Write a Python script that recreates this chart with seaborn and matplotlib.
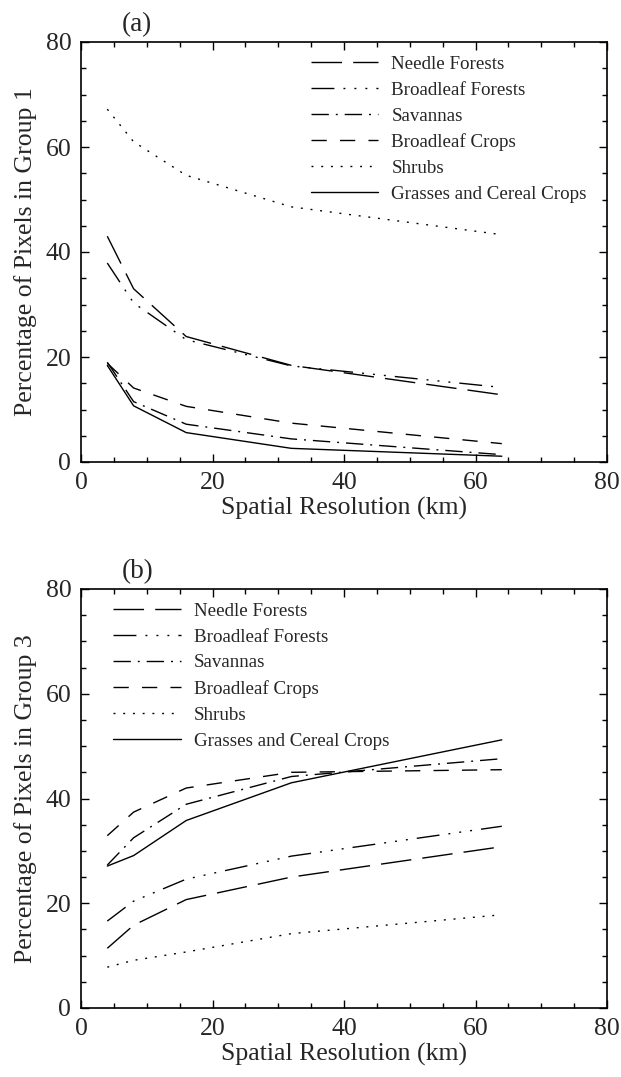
import matplotlib
matplotlib.use("Agg")
import matplotlib.pyplot as plt
from matplotlib.ticker import MultipleLocator
import numpy as np
import pandas as pd
import seaborn as sns

# Spatial resolutions (km) and land-cover classes
resolution = [4, 8, 16, 32, 64]
covers = ["Needle Forests", "Broadleaf Forests", "Savannas",
          "Broadleaf Crops", "Shrubs", "Grasses and Cereal Crops"]

# (a) percentage of pixels in group 1
g1_needle = [43.0, 33.0, 23.9, 18.4, 12.8]
g1_broadleaf_forest = [37.9, 30.3, 23.3, 18.3, 14.2]
g1_savanna = [19.0, 11.5, 7.2, 4.4, 1.4]
g1_broadleaf_crop = [18.8, 14.1, 10.6, 7.4, 3.5]
g1_shrub = [67.2, 61.0, 54.6, 48.6, 43.3]
g1_grass = [18.4, 10.7, 5.6, 2.6, 1.1]

# (b) percentage of pixels in group 3
g3_needle = [11.4, 15.8, 20.7, 25.0, 30.8]
g3_broadleaf_forest = [16.6, 20.4, 24.6, 29.0, 34.7]
g3_savanna = [27.3, 32.5, 38.9, 44.2, 47.6]
g3_broadleaf_crop = [32.9, 37.4, 42.0, 45.0, 45.5]
g3_shrub = [7.8, 9.1, 10.7, 14.2, 17.8]
g3_grass = [27.1, 29.1, 35.8, 43.0, 51.2]

panels = [
    ("(a)", "Percentage of Pixels in Group 1",
     [g1_needle, g1_broadleaf_forest, g1_savanna, g1_broadleaf_crop, g1_shrub, g1_grass],
     (0.437, 0.968)),
    ("(b)", "Percentage of Pixels in Group 3",
     [g3_needle, g3_broadleaf_forest, g3_savanna, g3_broadleaf_crop, g3_shrub, g3_grass],
     (0.061, 0.968)),
]

# dash patterns in points
dash_styles = {
    "Needle Forests": (22, 8),
    "Broadleaf Forests": (16.5, 6.5, 1.4, 6.5, 1.4, 6.5, 1.4, 6.5),
    "Savannas": (12.5, 5, 1.4, 5),
    "Broadleaf Crops": (11, 9.5),
    "Shrubs": (1.4, 5.6),
    "Grasses and Cereal Crops": "",
}

sns.set_theme(style="ticks")
plt.rcParams["font.family"] = ["Liberation Serif", "DejaVu Serif"]
plt.rcParams["lines.scale_dashes"] = False

fig = plt.figure(figsize=(6.21, 10.77), dpi=100)
rects = [(81 / 621, 1 - 462 / 1077, 526 / 621, 420 / 1077),
         (81 / 621, 1 - 1008 / 1077, 526 / 621, 419 / 1077)]

for rect, (tag, ylabel, series, legpos) in zip(rects, panels):
    ax = fig.add_axes(rect)
    frames = [pd.DataFrame({"res": resolution, "pct": vals, "cover": name})
              for name, vals in zip(covers, series)]
    df = pd.concat(frames, ignore_index=True)
    sns.lineplot(data=df, x="res", y="pct", style="cover", style_order=covers,
                 dashes=dash_styles, color="black", linewidth=1.0,
                 legend=False, ax=ax)
    lines = ax.get_lines()
    ax.legend(lines[:len(covers)], covers, loc="upper left",
              bbox_to_anchor=legpos, frameon=False, fontsize=13.7,
              handlelength=3.55, handletextpad=0.68, labelspacing=0.45,
              borderpad=0, borderaxespad=0)

    ax.set_xlim(0, 80)
    ax.set_ylim(0, 80)
    ax.xaxis.set_major_locator(MultipleLocator(20))
    ax.xaxis.set_minor_locator(MultipleLocator(5))
    ax.yaxis.set_major_locator(MultipleLocator(20))
    ax.yaxis.set_minor_locator(MultipleLocator(5))
    ax.tick_params(which="both", direction="in", top=True, right=True,
                   color="black", width=1.0, labelsize=18.5, pad=7)
    ax.tick_params(which="major", length=6)
    ax.tick_params(which="minor", length=3.8)
    for sp in ax.spines.values():
        sp.set_color("black")
        sp.set_linewidth(1.2)
    ax.set_xlabel("Spatial Resolution (km)", fontsize=18.5, labelpad=2)
    ax.set_ylabel(ylabel, fontsize=18.5, labelpad=6)
    ax.text(0.107, 1.012, tag, transform=ax.transAxes, fontsize=19.5,
            ha="center", va="bottom")

fig.savefig("out.png", dpi=100, facecolor="white")
